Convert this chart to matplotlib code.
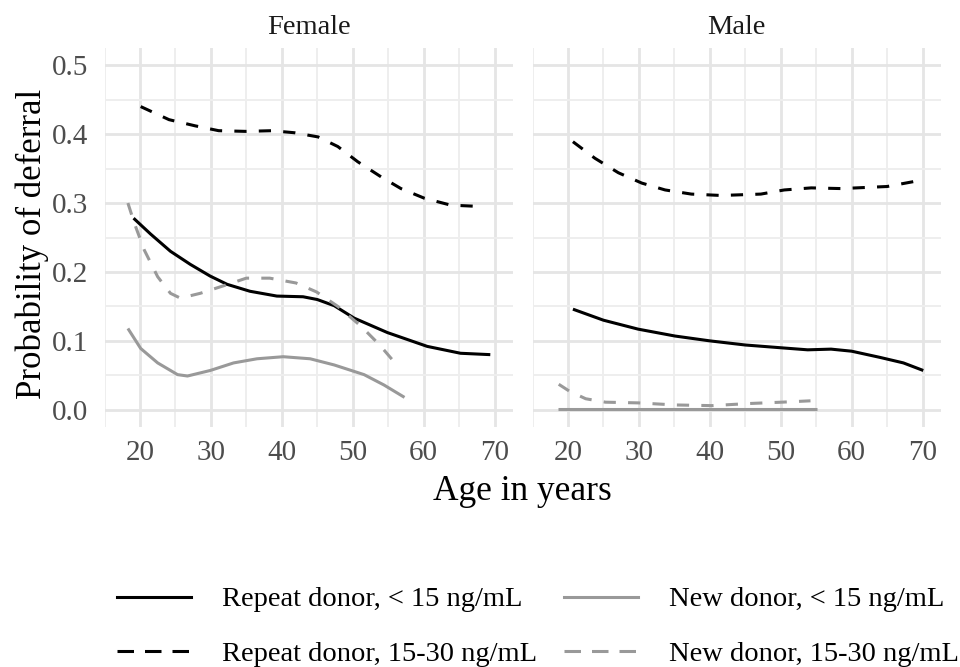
import matplotlib
matplotlib.use("Agg")
import matplotlib.pyplot as plt
from matplotlib.lines import Line2D
import numpy as np

plt.rcParams['font.family'] = ['Liberation Serif', 'DejaVu Serif']

# ---- Data ----
# Female
f_rep_lt15_age = [19.1, 21.5, 24.3, 27.1, 29.9, 32.3, 35.5, 39.3, 43.0, 45.0, 47.4, 50.2, 54.9, 60.5, 65.2, 69.4]
f_rep_lt15_val = [0.278, 0.255, 0.230, 0.211, 0.194, 0.182, 0.172, 0.165, 0.164, 0.160, 0.151, 0.133, 0.112, 0.092, 0.082, 0.080]

f_rep_1530_age = [20.1, 24.1, 27.8, 31.1, 34.9, 38.6, 41.8, 45.1, 47.9, 50.7, 54.0, 56.8, 60.1, 63.8, 68.0]
f_rep_1530_val = [0.440, 0.421, 0.412, 0.405, 0.404, 0.405, 0.402, 0.396, 0.382, 0.360, 0.338, 0.321, 0.307, 0.297, 0.295]

f_new_lt15_age = [18.3, 20.1, 22.5, 25.3, 26.7, 29.9, 33.2, 36.5, 40.2, 44.0, 47.4, 51.6, 54.4, 57.3]
f_new_lt15_val = [0.118, 0.089, 0.068, 0.051, 0.049, 0.057, 0.068, 0.074, 0.077, 0.074, 0.065, 0.051, 0.036, 0.018]

f_new_1530_age = [18.3, 19.2, 20.6, 22.5, 24.3, 25.7, 28.5, 31.8, 35.0, 38.3, 42.0, 44.9, 47.9, 51.2, 53.8, 56.3]
f_new_1530_val = [0.300, 0.271, 0.232, 0.193, 0.169, 0.162, 0.169, 0.180, 0.191, 0.191, 0.184, 0.171, 0.150, 0.121, 0.094, 0.064]

# Male
m_rep_lt15_age = [20.7, 25.0, 29.9, 35.1, 40.0, 45.0, 50.0, 53.8, 57.1, 60.0, 64.0, 67.3, 70.1]
m_rep_lt15_val = [0.146, 0.130, 0.117, 0.107, 0.100, 0.094, 0.090, 0.087, 0.088, 0.085, 0.076, 0.068, 0.057]

m_rep_1530_age = [20.7, 23.8, 27.1, 30.4, 33.7, 37.4, 41.6, 47.2, 50.5, 54.3, 58.5, 65.0, 69.2]
m_rep_1530_val = [0.389, 0.365, 0.344, 0.329, 0.319, 0.313, 0.311, 0.313, 0.319, 0.322, 0.321, 0.324, 0.332]

m_new_lt15_age = [18.6, 30.0, 40.0, 55.1]
m_new_lt15_val = [0.0014, 0.0014, 0.0014, 0.0014]

m_new_1530_age = [18.7, 20.2, 22.5, 25.3, 29.9, 35.1, 40.3, 45.4, 50.1, 54.2]
m_new_1530_val = [0.037, 0.027, 0.016, 0.011, 0.010, 0.007, 0.006, 0.009, 0.011, 0.013]

panels = ["Female", "Male"]
series_labels = ["Repeat donor, < 15 ng/mL", "Repeat donor, 15-30 ng/mL",
                 "New donor, < 15 ng/mL", "New donor, 15-30 ng/mL"]
x_ticks = [20, 30, 40, 50, 60, 70]
y_ticks = [0.0, 0.1, 0.2, 0.3, 0.4, 0.5]

data = {
    "Female": [(f_rep_lt15_age, f_rep_lt15_val), (f_rep_1530_age, f_rep_1530_val),
               (f_new_lt15_age, f_new_lt15_val), (f_new_1530_age, f_new_1530_val)],
    "Male": [(m_rep_lt15_age, m_rep_lt15_val), (m_rep_1530_age, m_rep_1530_val),
             (m_new_lt15_age, m_new_lt15_val), (m_new_1530_age, m_new_1530_val)],
}

BLACK = "#000000"
GREY = "#999999"
styles = [
    dict(color=BLACK, ls="solid"),
    dict(color=BLACK, ls="dashed"),
    dict(color=GREY, ls="solid"),
    dict(color=GREY, ls="dashed"),
]
LW = 2.2
DASH = (4, 4)
LEG_DASH = (5.4, 3.6)

W, H = 960, 667
fig = plt.figure(figsize=(W / 100, H / 100), dpi=100)

ax_top, ax_bot = 48, 427
boxes = [(104.5, 513), (532.5, 941)]
axes = []
for (x0, x1) in boxes:
    ax = fig.add_axes([x0 / W, 1 - ax_bot / H, (x1 - x0) / W, (ax_bot - ax_top) / H])
    axes.append(ax)

for i, (ax, name) in enumerate(zip(axes, panels)):
    ax.set_xlim(15.4, 72.6)
    ax.set_ylim(-0.025, 0.525)
    ax.set_xticks(x_ticks)
    ax.set_yticks(y_ticks)
    ax.set_xticks(np.arange(15, 75, 5), minor=True)
    ax.set_yticks(np.arange(0.05, 0.55, 0.1), minor=True)
    ax.grid(which="major", color="#E5E5E5", lw=2.0)
    ax.grid(which="minor", color="#EEEEEE", lw=1.4)
    ax.set_axisbelow(True)
    for s in ax.spines.values():
        s.set_visible(False)
    ax.tick_params(which="both", length=0)
    ax.tick_params(axis="x", labelsize=21, labelcolor="#4D4D4D", pad=9)
    ax.tick_params(axis="y", labelsize=21, labelcolor="#4D4D4D", pad=12)
    ax.set_yticklabels([f"{v:.1f}" for v in y_ticks])
    if i == 1:
        ax.tick_params(axis="y", labelleft=False)
    for (ages, vals), st in zip(data[name], styles):
        ln, = ax.plot(ages, vals, color=st["color"], lw=LW, solid_capstyle="butt",
                      solid_joinstyle="round")
        if st["ls"] == "dashed":
            ln.set_dashes(DASH)
            ln.set_dash_capstyle("butt")
    ax.set_title(name, fontsize=20.5, color="#1A1A1A", pad=10)

fig.text((104.5 + 941) / 2 / W, 1 - 492 / H, "Age in years", ha="center", va="center", fontsize=25.5)
fig.text(32 / W, 1 - 244 / H, "Probability of deferral", ha="center", va="center",
         rotation=90, fontsize=25)

handles = []
for st in styles:
    h = Line2D([], [], color=st["color"], lw=LW)
    if st["ls"] == "dashed":
        h.set_dashes(LEG_DASH)
    handles.append(h)

leg = fig.legend(handles, series_labels, ncol=2, loc="center",
                 bbox_to_anchor=(538 / W, 1 - 627 / H), frameon=False,
                 fontsize=20.5, handlelength=2.6, handletextpad=1.1,
                 columnspacing=0.95, labelspacing=1.02, borderpad=0.0,
                 borderaxespad=0.0)

fig.savefig("out.png", dpi=100)
